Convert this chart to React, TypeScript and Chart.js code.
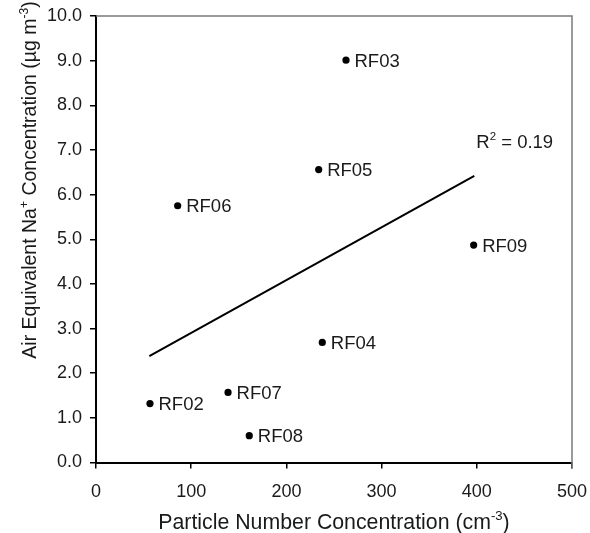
import React, { useEffect, useRef } from "react";
import { Chart, registerables } from "chart.js";

Chart.register(...registerables);

const flightNames = ["RF02", "RF03", "RF04", "RF05", "RF06", "RF07", "RF08", "RF09"];
const particleNumber = [56.7, 262.6, 237.7, 233.9, 85.8, 138.7, 161.0, 396.7];
const naConcentration = [1.32, 9.01, 2.69, 6.56, 5.75, 1.57, 0.6, 4.87];
const trendX = [56, 397.4];
const trendY = [2.38, 6.42];
const rSquaredLabel = "0.19";
const xTicks = [0, 100, 200, 300, 400, 500];
const yTicks = [0, 1, 2, 3, 4, 5, 6, 7, 8, 9, 10];

const FONT = "'Liberation Sans', Arial, Helvetica, sans-serif";
const TEXT = "#1a1a1a";

type Seg = { t: string; sup?: boolean };

function richWidth(ctx: CanvasRenderingContext2D, segs: Seg[], size: number) {
  let w = 0;
  for (const s of segs) {
    ctx.font = `${s.sup ? size * 0.62 : size}px ${FONT}`;
    w += ctx.measureText(s.t).width;
  }
  return w;
}

function drawRich(ctx: CanvasRenderingContext2D, segs: Seg[], x: number, y: number, size: number) {
  let cx = x;
  ctx.textBaseline = "alphabetic";
  ctx.textAlign = "left";
  for (const s of segs) {
    ctx.font = `${s.sup ? size * 0.62 : size}px ${FONT}`;
    ctx.fillText(s.t, cx, s.sup ? y - size * 0.4 : y);
    cx += ctx.measureText(s.t).width;
  }
}

const framePlugin = {
  id: "frame",
  beforeDatasetsDraw(chart: any) {
    const ctx: CanvasRenderingContext2D = chart.ctx;
    const a = chart.chartArea;
    ctx.save();
    ctx.strokeStyle = "#7a7a7a";
    ctx.lineWidth = 1.5;
    ctx.beginPath();
    ctx.moveTo(a.left, a.top);
    ctx.lineTo(a.right, a.top);
    ctx.lineTo(a.right, a.bottom + 6);
    ctx.stroke();
    ctx.restore();
  },
};

const annotPlugin = {
  id: "annot",
  afterDraw(chart: any) {
    const ctx: CanvasRenderingContext2D = chart.ctx;
    const xs = chart.scales.x;
    const ys = chart.scales.y;
    ctx.save();
    ctx.fillStyle = TEXT;
    // point labels
    ctx.font = `18.5px ${FONT}`;
    ctx.textBaseline = "middle";
    ctx.textAlign = "left";
    flightNames.forEach((n, i) => {
      const px = xs.getPixelForValue(particleNumber[i]);
      const py = ys.getPixelForValue(naConcentration[i]);
      ctx.fillText(n, px + 8.5, py + 1.5);
    });
    // R² label
    const rx = xs.getPixelForValue(trendX[1]) + 2;
    const ry = ys.getPixelForValue(trendY[1]) - 28;
    drawRich(ctx, [{ t: "R" }, { t: "2", sup: true }, { t: " = " + rSquaredLabel }], rx, ry, 18.5);
    // x title
    const xt: Seg[] = [{ t: "Particle Number Concentration (cm" }, { t: "-3", sup: true }, { t: ")" }];
    const xw = richWidth(ctx, xt, 21.3);
    const xc = (chart.chartArea.left + chart.chartArea.right) / 2;
    drawRich(ctx, xt, xc - xw / 2, 529, 21.3);
    // y title
    const yt: Seg[] = [
      { t: "Air Equivalent Na" },
      { t: "+", sup: true },
      { t: " Concentration (\u00b5g m" },
      { t: "-3", sup: true },
      { t: ")" },
    ];
    const yw = richWidth(ctx, yt, 19.5);
    ctx.save();
    ctx.translate(35.5, 180);
    ctx.rotate(-Math.PI / 2);
    drawRich(ctx, yt, -yw / 2, 0, 19.5);
    ctx.restore();
    ctx.restore();
  },
};

export default function App() {
  const ref = useRef<HTMLCanvasElement>(null);
  useEffect(() => {
    if (!ref.current) return;
    const chart = new Chart(ref.current, {
      type: "scatter",
      data: {
        datasets: [
          {
            type: "scatter",
            data: particleNumber.map((x, i) => ({ x, y: naConcentration[i] })),
            backgroundColor: "#000",
            borderColor: "#000",
            pointRadius: 3.6,
            pointHoverRadius: 3.6,
            borderWidth: 0,
          },
          {
            type: "line",
            data: trendX.map((x, i) => ({ x, y: trendY[i] })),
            borderColor: "#000",
            borderWidth: 2,
            pointRadius: 0,
            fill: false,
          } as any,
        ],
      },
      plugins: [framePlugin, annotPlugin],
      options: {
        animation: false,
        responsive: false,
        events: [],
        layout: { padding: { top: 16, right: 18, left: 0, bottom: 0 } },
        plugins: { legend: { display: false }, tooltip: { enabled: false } },
        scales: {
          x: {
            type: "linear",
            min: 0,
            max: 500,
            afterBuildTicks: (s: any) => {
              s.ticks = xTicks.map((v) => ({ value: v }));
            },
            afterFit: (s: any) => {
              s.height = 70.5;
              s.paddingLeft = 0;
              s.paddingRight = 0;
            },
            ticks: {
              color: TEXT,
              font: { family: FONT, size: 18 },
              padding: 13,
              maxRotation: 0,
              callback: (v: any) => String(v),
            },
            grid: { drawOnChartArea: false, drawTicks: true, tickLength: 6, color: "#000", lineWidth: 1.5 },
            border: { display: true, color: "#000", width: 2 },
          },
          y: {
            type: "linear",
            min: 0,
            max: 10,
            afterBuildTicks: (s: any) => {
              s.ticks = yTicks.map((v) => ({ value: v }));
            },
            afterFit: (s: any) => {
              s.width = 96;
              s.paddingTop = 0;
              s.paddingBottom = 0;
            },
            ticks: {
              color: TEXT,
              font: { family: FONT, size: 18 },
              padding: 8,
              callback: (v: any) => Number(v).toFixed(1),
            },
            grid: { drawOnChartArea: false, drawTicks: true, tickLength: 6, color: "#000", lineWidth: 1.5 },
            border: { display: true, color: "#000", width: 2 },
          },
        },
      },
    });
    return () => chart.destroy();
  }, []);
  return (
    <div style={{ position: "absolute", left: 0, top: 0, width: 590, height: 533, background: "#fff" }}>
      <canvas ref={ref} width={590} height={533} />
    </div>
  );
}
